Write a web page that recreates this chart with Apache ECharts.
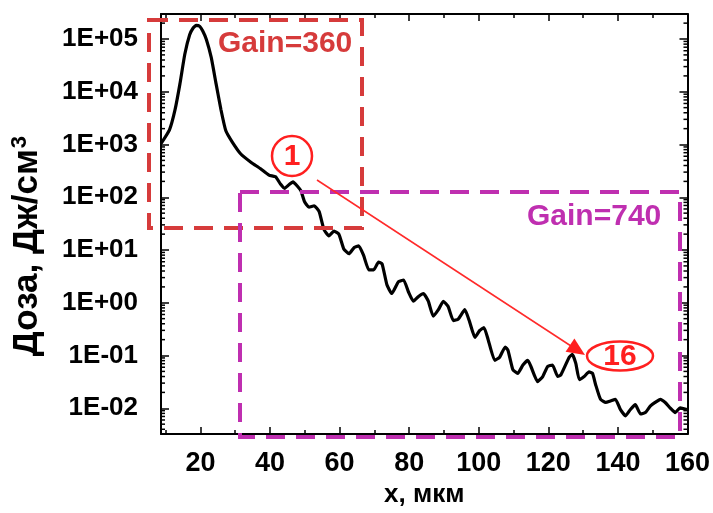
<!DOCTYPE html>
<html>
<head>
    <meta charset="utf-8">
    <title>Доза</title>
    <script src="https://cdn.jsdelivr.net/npm/echarts@6/dist/echarts.min.js"></script>
    <style>
        html, body { margin: 0; padding: 0; background: #fff; }
    </style>
</head>
<body>
    <div id="main" style="width: 713px;height:513px;"></div>
    <script type="text/javascript">
        // x, мкм
        var xValues = [8.7, 11.1, 12.7, 14.1, 15.5, 16.9, 17.9, 18.8, 19.8, 20.7, 21.7, 23.1, 24.5, 25.9, 27.3, 29.2,
            31.6, 34.5, 37.3, 39.7, 41.6, 43.0, 44.2, 45.5, 46.6, 48.0, 48.9, 49.9, 51.2, 52.7, 54.1, 55.5, 56.9, 58.4,
            59.8, 61.2, 62.7, 64.2, 65.5, 66.9, 68.4, 69.8, 71.2, 72.2, 73.6, 75.0, 76.9, 78.4, 79.8, 81.2, 82.7, 84.1,
            85.5, 86.9, 88.4, 89.8, 91.2, 92.7, 94.1, 96.0, 97.4, 98.9, 100.3, 101.5, 102.7, 104.6, 106.0, 107.6, 108.4,
            109.8, 111.2, 112.7, 114.1, 115.0, 116.9, 118.4, 119.8, 121.2, 122.7, 123.6, 126.0, 126.9, 127.9, 128.9,
            130.3, 131.7, 132.7, 133.6, 135.0, 136.5, 137.9, 139.3, 140.7, 142.2, 143.6, 145.0, 146.5, 147.9, 149.3,
            150.7, 152.2, 153.6, 155.0, 156.5, 157.9, 159.8];
        // Доза, Дж/см3
        var doseValues = [1050, 1900, 4570, 14100, 51300, 120000, 162000, 181000, 174000, 140000, 98000, 44700, 14100,
            4570, 1820, 1100, 661, 462, 347, 263, 245, 178, 148, 174, 195, 158, 132, 83, 65, 69, 54, 24.5, 18.6, 22.9,
            20, 10.5, 8.5, 11.2, 12, 7.9, 4.2, 4.2, 5.9, 5.5, 2.2, 1.5, 2.5, 2.7, 1.6, 1.07, 1.32, 1.5,
            1.07, 0.56, 0.74, 1.07, 0.85, 0.46, 0.49, 0.74, 0.43, 0.22, 0.30, 0.34, 0.20, 0.081, 0.093, 0.145, 0.126,
            0.054, 0.046, 0.066, 0.081, 0.062, 0.032, 0.040, 0.062, 0.066, 0.040, 0.043, 0.093, 0.105, 0.071, 0.035,
            0.040, 0.049, 0.046, 0.028, 0.0148, 0.0129, 0.0138, 0.0148, 0.0095, 0.0072, 0.0095, 0.0117, 0.0078, 0.0083, 0.011,
            0.0129, 0.0148, 0.0129, 0.0102, 0.0083, 0.0102, 0.0095];
        var yTickLabels = ['1E-02', '1E-01', '1E+00', '1E+01', '1E+02', '1E+03', '1E+04', '1E+05'];
        var yMinorSteps = [2, 3, 4, 5, 6, 7, 8, 9];

        var xMin = 8.66, xMax = 160;
        var yMin = 0.00324, yMax = 298000;
        var font = '"Liberation Sans", Arial, sans-serif';

        var lineData = xValues.map(function (x, i) { return [x, doseValues[i]]; });

        var minorY = [];
        for (var e = -3; e <= 5; e++) {
            yMinorSteps.forEach(function (s) {
                var v = s * Math.pow(10, e);
                if (v > yMin && v < yMax) minorY.push([xMin, v]);
            });
        }

        function yLabel(v) {
            var lg = Math.log10(v);
            var k = Math.round(lg);
            if (Math.abs(lg - k) > 1e-6) return '';
            return yTickLabels[k + 2] || '';
        }

        var myChart = echarts.init(document.getElementById('main'));

        var option = {
            animation: false,
            grid: { left: 161, right: 22, top: 14, bottom: 71 },
            xAxis: [{
                type: 'value', min: xMin, max: xMax, minInterval: 20, maxInterval: 20,
                axisLine: { lineStyle: { color: '#000', width: 2 } },
                axisTick: { inside: true, length: 7, lineStyle: { color: '#000', width: 1.5 } },
                minorTick: { show: true, splitNumber: 2, length: 4, lineStyle: { color: '#000', width: 1.5 } },
                splitLine: { show: false },
                axisLabel: {
                    margin: 16, color: '#000', fontSize: 27, fontWeight: 'bold', fontFamily: font,
                    showMinLabel: false,
                    formatter: function (v) { return (v % 20 === 0) ? String(v) : ''; }
                },
                name: 'x, мкм', nameLocation: 'middle', nameGap: 44,
                nameTextStyle: { color: '#000', fontSize: 26, fontWeight: 'bold', fontFamily: font, verticalAlign: 'top' }
            }, {
                type: 'value', position: 'top', min: xMin, max: xMax, minInterval: 20, maxInterval: 20,
                axisLine: { lineStyle: { color: '#000', width: 2 } },
                axisTick: { inside: true, length: 7, lineStyle: { color: '#000', width: 1.5 } },
                minorTick: { show: true, splitNumber: 2, length: 4, lineStyle: { color: '#000', width: 1.5 } },
                splitLine: { show: false },
                axisLabel: { show: false }
            }],
            yAxis: [{
                type: 'log', min: yMin, max: yMax,
                axisLine: { lineStyle: { color: '#000', width: 2 } },
                axisTick: { inside: true, length: 8, lineStyle: { color: '#000', width: 1.5 } },
                splitLine: { show: false },
                axisLabel: {
                    margin: 23, color: '#000', fontSize: 26, fontWeight: 'bold', fontFamily: font,
                    showMinLabel: false, showMaxLabel: false,
                    formatter: yLabel
                },
                name: 'Доза, Дж/см{sup|3}', nameLocation: 'middle', nameRotate: 90, nameGap: 116,
                nameTextStyle: {
                    color: '#000', fontSize: 35, fontWeight: 'bold', fontFamily: font, padding: [0, 44, 0, 0],
                    rich: {
                        sup: { color: '#000', fontSize: 22, fontWeight: 'bold', fontFamily: font, verticalAlign: 'top', padding: [0, 0, 14, 1] }
                    }
                }
            }, {
                type: 'log', position: 'right', min: yMin, max: yMax,
                axisLine: { lineStyle: { color: '#000', width: 2 } },
                axisTick: { inside: true, length: 8, lineStyle: { color: '#000', width: 1.5 } },
                splitLine: { show: false },
                axisLabel: { show: false }
            }],
            series: [{
                type: 'line',
                data: lineData,
                showSymbol: false,
                smooth: 0.15,
                lineStyle: { color: '#000', width: 3.2 },
                z: 3
            }, {
                // log minor ticks on both sides
                type: 'custom',
                data: minorY,
                silent: true,
                renderItem: function (params, api) {
                    var v = api.value(1);
                    var l = api.coord([xMin, v]);
                    var r = api.coord([xMax, v]);
                    return {
                        type: 'group',
                        children: [
                            { type: 'line', shape: { x1: l[0], y1: l[1], x2: l[0] + 4, y2: l[1] }, style: { stroke: '#000', lineWidth: 1.5 } },
                            { type: 'line', shape: { x1: r[0], y1: r[1], x2: r[0] - 4, y2: r[1] }, style: { stroke: '#000', lineWidth: 1.5 } }
                        ]
                    };
                }
            }],
            graphic: [
                { type: 'rect', z: 100, shape: { x: 149, y: 20, width: 213, height: 208 },
                  style: { fill: 'none', stroke: '#d63b3b', lineWidth: 4, lineDash: [19, 11] } },
                { type: 'rect', z: 100, shape: { x: 240, y: 192, width: 440, height: 245 },
                  style: { fill: 'none', stroke: '#bf2fb0', lineWidth: 4, lineDash: [19, 11] } },
                { type: 'text', z: 101, x: 218, y: 44,
                  style: { text: 'Gain=360', fill: '#d63b3b', font: 'bold 30px ' + font, verticalAlign: 'middle' } },
                { type: 'text', z: 101, x: 527, y: 217,
                  style: { text: 'Gain=740', fill: '#bf2fb0', font: 'bold 30px ' + font, verticalAlign: 'middle' } },
                { type: 'circle', z: 101, shape: { cx: 292, cy: 156, r: 20 },
                  style: { fill: '#fff', stroke: '#ff1f1f', lineWidth: 2.5 } },
                { type: 'text', z: 102, x: 292, y: 157,
                  style: { text: '1', fill: '#ff1f1f', font: 'bold 30px ' + font, align: 'center', verticalAlign: 'middle' } },
                { type: 'ellipse', z: 101, shape: { cx: 620, cy: 356, rx: 33, ry: 14.5 },
                  style: { fill: '#fff', stroke: '#ff1f1f', lineWidth: 2.5 } },
                { type: 'text', z: 102, x: 620, y: 357,
                  style: { text: '16', fill: '#ff1f1f', font: 'bold 30px ' + font, align: 'center', verticalAlign: 'middle' } },
                { type: 'line', z: 101, shape: { x1: 317, y1: 180, x2: 571, y2: 346 },
                  style: { stroke: '#ff2a2a', lineWidth: 1.5 } },
                { type: 'polygon', z: 101, shape: { points: [[585, 355], [565.6, 351.8], [574.4, 338.4]] },
                  style: { fill: '#ff1f1f' } }
            ]
        };

        myChart.setOption(option);
    </script>
</body>
</html>
